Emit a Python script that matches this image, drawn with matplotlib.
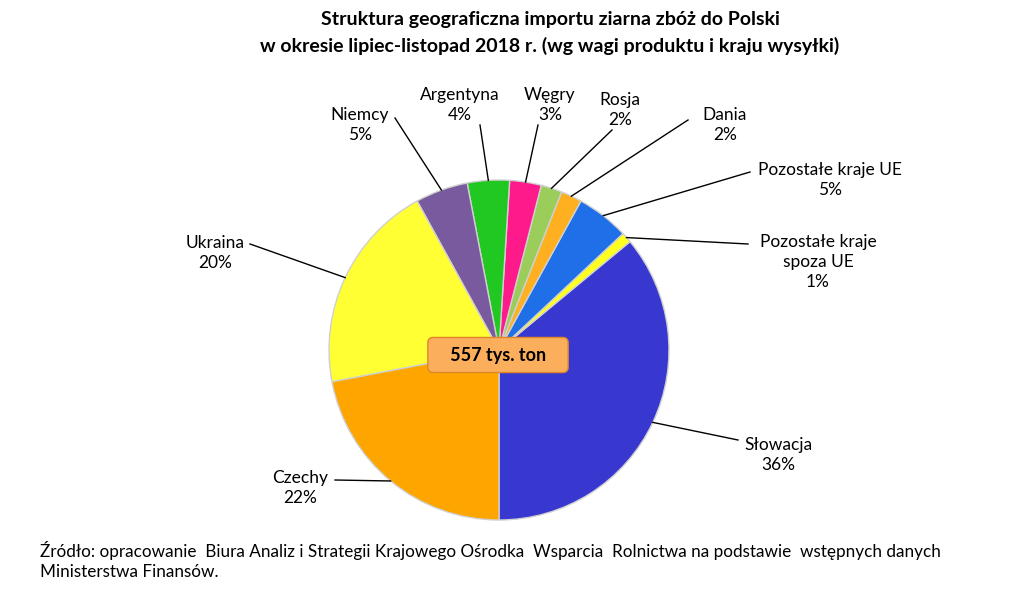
import matplotlib
matplotlib.use("Agg")
import matplotlib.pyplot as plt
import numpy as np

plt.rcParams['font.family'] = ['Lato', 'DejaVu Sans']

labels = ["Słowacja", "Pozostałe kraje\nspoza UE", "Pozostałe kraje UE", "Dania", "Rosja",
          "Węgry", "Argentyna", "Niemcy", "Ukraina", "Czechy"]
values = [36, 1, 5, 2, 2, 3, 4, 5, 20, 22]
colors = ["#3838D0", "#FFFF20", "#1E6FE8", "#FFB020", "#9ACD5A",
          "#FF1A8C", "#22C822", "#7A5A9E", "#FFFF33", "#FFA500"]
label_pos = [(778, 455), (818, 262), (830, 180), (725, 125), (620, 110),
             (550, 105), (460, 105), (360, 125), (215, 253), (300, 488)]
line_end = [(738, 440), (748, 244), (750, 172), (688, 120), (612, 130),
            (538, 125), (480, 125), (395, 118), (250, 244), (335, 480)]

H = 596
fig = plt.figure(figsize=(10.24, 5.96), dpi=100)
ax = fig.add_axes([0, 0, 1, 1])

cx, cy, R = 499, H - 350, 170
wedges, _ = ax.pie(values, colors=colors, startangle=270, counterclock=True,
                   center=(cx, cy), radius=R, frame=True,
                   wedgeprops=dict(edgecolor='#d0d0d0', linewidth=1))
ax.set_xlim(0, 1024); ax.set_ylim(0, H); ax.set_aspect('equal'); ax.axis('off')

total = sum(values)
ang = 270
for v, lab, lp, le in zip(values, labels, label_pos, line_end):
    a = ang + v / total * 360 / 2
    ang += v / total * 360
    px = cx + R * np.cos(np.radians(a)); py = cy + R * np.sin(np.radians(a))
    ax.plot([px, le[0]], [py, H - le[1]], color='black', lw=1)
    ax.text(lp[0], H - lp[1], f"{lab}\n{v}%", ha='center', va='center', fontsize=12.5, linespacing=1.3)

ax.text(498, H - 355, "   557 tys. ton   ", ha='center', va='center', fontsize=13, fontweight='bold',
        bbox=dict(boxstyle='round,pad=0.5,rounding_size=0.3', fc='#FBAE5C', ec='#E0862A', lw=1))

ax.text(550, H - 20, "Struktura geograficzna importu ziarna zbóż do Polski", ha='center', va='center',
        fontsize=14, fontweight='bold')
ax.text(550, H - 46, "w okresie lipiec-listopad 2018 r. (wg wagi produktu i kraju wysyłki)", ha='center',
        va='center', fontsize=14, fontweight='bold')
ax.text(40, H - 550, "Źródło: opracowanie  Biura Analiz i Strategii Krajowego Ośrodka  Wsparcia  Rolnictwa na podstawie  wstępnych danych",
        ha='left', va='center', fontsize=12.3)
ax.text(40, H - 572, "Ministerstwa Finansów.", ha='left', va='center', fontsize=12.3)

fig.savefig("out.png", dpi=100)
